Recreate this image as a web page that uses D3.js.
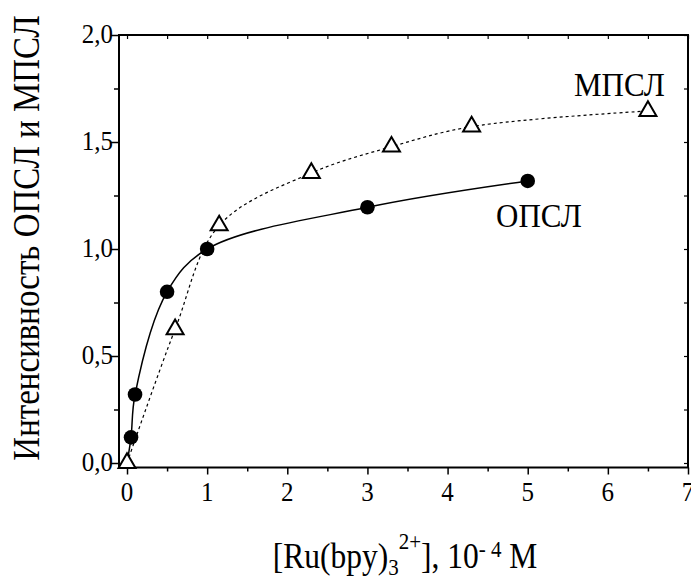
<!DOCTYPE html>
<html>
<head>
<meta charset="utf-8">
<script src="https://cdn.jsdelivr.net/npm/d3@7"></script>
<style>
  html, body { margin: 0; padding: 0; background: #fff; }
  svg { display: block; }
  text { font-family: "Liberation Serif", "Times New Roman", serif; fill: #000; }
</style>
</head>
<body>
<svg id="chart" width="691" height="576"></svg>
<script>
// Concentration of Ru(bpy)3 2+, 10^-4 M
const opslX = [0, 0.05, 0.1, 0.5, 1, 3, 5];
const opslY = [0, 0.12, 0.32, 0.80, 1.00, 1.195, 1.318];
const mpslX = [0, 0.6, 1.15, 2.3, 3.3, 4.3, 6.5];
const mpslY = [0, 0.625, 1.11, 1.355, 1.478, 1.572, 1.645];

const xTicks = [0, 1, 2, 3, 4, 5, 6, 7];
const xMinor = [0.5, 1.5, 2.5, 3.5, 4.5, 5.5, 6.5];
const yTicks = [0, 0.5, 1.0, 1.5, 2.0];
const yMinor = [0.25, 0.75, 1.25, 1.75];

const svg = d3.select("#chart");
const plotL = 119, plotR = 688, plotT = 35, plotB = 467.5;

const x = d3.scaleLinear().domain([-0.1, 7]).range([plotL, plotR]);
const y = d3.scaleLinear().domain([-0.021, 2.0]).range([plotB, plotT]);

const fmt = d => d3.format(".1f")(d).replace(".", ",");
const sy = 1.12; // vertical stretch of glyphs

// Frame
const g = svg.append("g");
g.append("rect").attr("x", plotL).attr("y", plotT)
  .attr("width", plotR - plotL).attr("height", plotB - plotT)
  .attr("fill", "none").attr("stroke", "#000").attr("stroke-width", 2);

// Bottom axis: outward ticks
g.append("g").attr("transform", `translate(0,${plotB})`)
  .call(d3.axisBottom(x).tickValues(xTicks).tickSize(7).tickFormat(""))
  .call(s => s.select(".domain").remove())
  .call(s => s.selectAll("line").attr("stroke-width", 1.5));
g.append("g").attr("transform", `translate(0,${plotB})`)
  .call(d3.axisBottom(x).tickValues(xMinor).tickSize(4).tickFormat(""))
  .call(s => s.select(".domain").remove())
  .call(s => s.selectAll("line").attr("stroke-width", 1.5));
// Top axis: inward ticks
g.append("g").attr("transform", `translate(0,${plotT})`)
  .call(d3.axisBottom(x).tickValues(xTicks.concat(xMinor)).tickSize(4).tickFormat(""))
  .call(s => s.select(".domain").remove())
  .call(s => s.selectAll("line").attr("stroke-width", 1.2));

// Left axis: outward ticks
g.append("g").attr("transform", `translate(${plotL},0)`)
  .call(d3.axisLeft(y).tickValues(yTicks).tickSize(8).tickFormat(""))
  .call(s => s.select(".domain").remove())
  .call(s => s.selectAll("line").attr("stroke-width", 1.5));
g.append("g").attr("transform", `translate(${plotL},0)`)
  .call(d3.axisLeft(y).tickValues(yMinor).tickSize(5).tickFormat(""))
  .call(s => s.select(".domain").remove())
  .call(s => s.selectAll("line").attr("stroke-width", 1.5));
// Right axis: inward ticks
g.append("g").attr("transform", `translate(${plotR},0)`)
  .call(d3.axisLeft(y).tickValues(yTicks.concat(yMinor)).tickSize(4).tickFormat(""))
  .call(s => s.select(".domain").remove())
  .call(s => s.selectAll("line").attr("stroke-width", 1.2));

// Tick labels
const tickFont = 25;
xTicks.forEach(v => {
  svg.append("text")
    .attr("transform", `translate(${x(v)},${501}) scale(1,${sy})`)
    .attr("text-anchor", "middle").attr("font-size", tickFont).text(v);
});
yTicks.forEach(v => {
  svg.append("text")
    .attr("transform", `translate(${113},${y(v) + 8}) scale(1,${sy})`)
    .attr("text-anchor", "end").attr("font-size", tickFont).text(fmt(v));
});

// Curves
const line = d3.line().x(d => x(d[0])).y(d => y(d[1])).curve(d3.curveCatmullRom.alpha(0.5));
const opsl = opslX.map((v, i) => [v, opslY[i]]);
const mpsl = mpslX.map((v, i) => [v, mpslY[i]]);

svg.append("path").attr("d", line(mpsl))
  .attr("fill", "none").attr("stroke", "#000").attr("stroke-width", 1.2)
  .attr("stroke-dasharray", "3,3");
svg.append("path").attr("d", line(opsl))
  .attr("fill", "none").attr("stroke", "#000").attr("stroke-width", 1.5);

// Markers
svg.selectAll("circle.opsl").data(opsl.filter(d => d[0] > 0)).enter()
  .append("circle").attr("class", "opsl")
  .attr("cx", d => x(d[0])).attr("cy", d => y(d[1])).attr("r", 7.3)
  .attr("fill", "#000");
const tri = d3.symbol().type(d3.symbolTriangle).size(125);
svg.selectAll("path.mpsl").data(mpsl).enter()
  .append("path").attr("class", "mpsl")
  .attr("transform", d => `translate(${x(d[0])},${y(d[1])})`)
  .attr("d", tri()).attr("fill", "#fff").attr("stroke", "#000").attr("stroke-width", 2);

// Series labels
svg.append("text").attr("transform", `translate(574,96) scale(1,${sy})`)
  .attr("font-size", 31).text("МПСЛ");
svg.append("text").attr("transform", `translate(496,227) scale(1,${sy})`)
  .attr("font-size", 31).text("ОПСЛ");

// Y axis title
svg.append("text")
  .attr("transform", `translate(39,238) rotate(-90) scale(1,${sy})`)
  .attr("text-anchor", "middle").attr("font-size", 33)
  .text("Интенсивность ОПСЛ и МПСЛ");

// X axis title with subscript and superscripts
const xt = svg.append("text")
  .attr("transform", `translate(405,568) scale(1,${sy})`)
  .attr("text-anchor", "middle").attr("font-size", 31.5);
xt.append("tspan").text("[Ru(bpy)");
xt.append("tspan").attr("font-size", 21).attr("dy", 6).text("3");
xt.append("tspan").attr("font-size", 21).attr("dy", -23).text("2+");
xt.append("tspan").attr("dy", 17).text("], 10");
xt.append("tspan").attr("font-size", 21).attr("dy", -10).text("- 4");
xt.append("tspan").attr("dy", 10).text(" M");
</script>
</body>
</html>
